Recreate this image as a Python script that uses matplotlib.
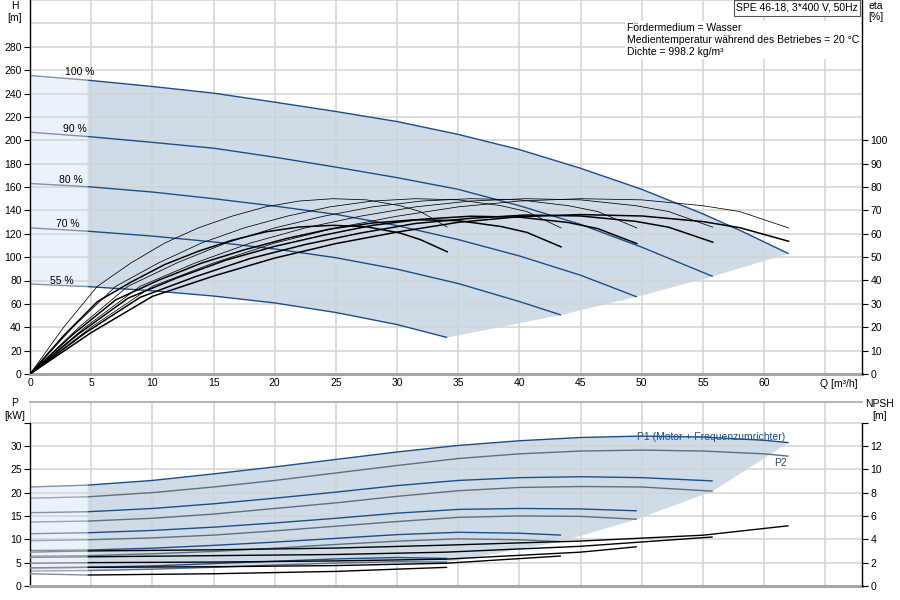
import matplotlib
matplotlib.use('Agg')
import matplotlib.pyplot as plt
import numpy as np

plt.rcParams['font.family'] = ['Liberation Sans', 'DejaVu Sans']
plt.rcParams['font.size'] = 7.5

# --- Förderhöhe H [m] je Drehzahl ---
speeds = ['100 %', '90 %', '80 %', '70 %', '55 %']
Q_H100 = [0, 4.7, 10, 15, 20, 25, 30, 35, 40, 45, 50, 55, 58, 62]
H100 = [255.4, 251.4, 246, 240.3, 232.6, 224.6, 216, 205, 192, 176, 158, 137, 123, 103]
Q_H90 = [0, 4.7, 10, 15, 20, 25, 30, 35, 40, 45, 50, 55.8]
H90 = [206.9, 203.2, 198.2, 193.2, 185.5, 177, 168, 158, 144, 128, 108.5, 83.5]
Q_H80 = [0, 4.7, 10, 15, 20, 25, 30, 35, 40, 45, 49.6]
H80 = [163, 160.3, 155.7, 150, 143.7, 136.6, 127, 115, 101, 84.5, 66]
Q_H70 = [0, 4.7, 10, 15, 20, 25, 30, 35, 40, 43.4]
H70 = [125, 122.2, 118, 113, 107, 99.5, 89.7, 77.4, 62, 50.5]
Q_H55 = [0, 4.7, 10, 15, 20, 25, 30, 34.1]
H55 = [77, 74.8, 71.2, 66.7, 60.8, 52.6, 42.3, 31.2]

# --- Wirkungsgrad eta [%]: dünn = Pumpe, dick = gesamt ---
Q_E100 = [0, 5, 10, 15, 20, 25, 30, 35, 40, 45, 50, 55, 58, 62]
ETA_P100 = [0, 20, 37.5, 47.5, 56, 62.5, 67.5, 71.5, 74, 75, 74.5, 72, 69.5, 62.5]
ETA_T100 = [0, 17.7, 33.2, 41.9, 49.6, 55.8, 60.7, 64.9, 67.3, 68.2, 67.6, 65.2, 62.6, 56.8]
Q_E90 = [0, 4.5, 9, 13.5, 18, 22.5, 27, 31.5, 36, 40.5, 45, 49.5, 52.2, 55.8]
ETA_P90 = [0, 20, 37.5, 47.5, 56, 62.5, 67.5, 71.5, 74, 75, 74.5, 72, 69.5, 62.8]
ETA_T90 = [0, 17.5, 32.8, 41.6, 49.4, 55.4, 60.3, 64.4, 66.6, 68.0, 67.6, 65.3, 62.8, 56.4]
Q_E80 = [0, 4, 8, 12, 16, 20, 24, 28, 32, 36, 40, 44, 46.4, 49.6]
ETA_P80 = [0, 20, 37.5, 47.5, 56, 62.5, 67.5, 71.5, 74, 75, 74.5, 72, 69.5, 62.5]
ETA_T80 = [0, 17.3, 32.4, 41.1, 48.7, 54.6, 59.4, 63.6, 66.2, 67.5, 67.1, 64.8, 62.2, 55.8]
Q_E70 = [0, 3.5, 7, 10.5, 14, 17.5, 21, 24.5, 28, 31.5, 35, 38.5, 40.6, 43.4]
ETA_P70 = [0, 20, 37.5, 47.5, 56, 62.5, 67.5, 71.5, 74, 75, 74.5, 72, 69.5, 62.5]
ETA_T70 = [0, 16.9, 31.7, 40.1, 47.4, 53.1, 58, 62, 64.6, 66, 65.6, 63.1, 60.6, 54.4]
Q_E55 = [0, 2.75, 5.5, 8.25, 11, 13.75, 16.5, 19.25, 22, 24.75, 27.5, 30.25, 31.9, 34.1]
ETA_P55 = [0, 20, 37.5, 47.5, 56, 62.5, 67.5, 71.5, 74, 75, 74.5, 72, 69.5, 62.9]
ETA_T55 = [0, 16.4, 30.9, 39.3, 46.8, 52.5, 57.2, 60.8, 62.9, 63.6, 63.0, 60.3, 57.5, 52.3]

# --- Leistung P [kW] ---
Q_P100 = [0, 4.7, 10, 15, 20, 25, 30, 35, 40, 45, 50, 55, 60, 62]
P1_100 = [21.2, 21.6, 22.6, 24.0, 25.5, 27.1, 28.7, 30.1, 31.1, 31.8, 32.1, 31.9, 31.2, 30.7]
P2_100 = [18.8, 19.1, 20.0, 21.2, 22.6, 24.2, 25.8, 27.3, 28.3, 28.9, 29.1, 28.9, 28.3, 27.8]
Q_P90 = [0, 4.7, 10, 15, 20, 25, 30, 35, 40, 45, 50, 55.8]
P1_90 = [15.7, 15.9, 16.6, 17.6, 18.8, 20.1, 21.5, 22.6, 23.2, 23.4, 23.2, 22.5]
P2_90 = [13.7, 13.9, 14.5, 15.4, 16.6, 17.8, 19.2, 20.4, 21.1, 21.3, 21.2, 20.3]
Q_P80 = [0, 4.7, 10, 15, 20, 25, 30, 35, 40, 45, 49.6]
P1_80 = [11.2, 11.4, 11.9, 12.6, 13.5, 14.5, 15.6, 16.4, 16.6, 16.5, 16.1]
P2_80 = [9.7, 9.9, 10.3, 10.9, 11.8, 12.8, 13.8, 14.7, 15.0, 14.9, 14.3]
Q_P70 = [0, 4.7, 10, 15, 20, 25, 30, 35, 40, 43.4]
P1_70 = [7.6, 7.7, 8.1, 8.7, 9.4, 10.2, 11.0, 11.5, 11.3, 10.9]
P2_70 = [6.4, 6.5, 6.9, 7.4, 8.1, 8.9, 9.6, 10.1, 9.9, 9.5]
Q_P55 = [0, 4.7, 10, 15, 20, 25, 30, 34.1]
P1_55 = [3.9, 4.0, 4.3, 4.8, 5.3, 5.8, 6.1, 5.9]
P2_55 = [3.2, 3.3, 3.6, 4.0, 4.5, 4.9, 5.2, 5.1]

# --- NPSH [m] ---
Q_N100 = [0, 4.7, 15, 25, 34, 45, 55, 62]
N100 = [2.9, 3.0, 3.1, 3.25, 3.5, 3.85, 4.35, 5.16]
Q_N90 = [0, 4.7, 15, 25, 34, 45, 55.8]
N90 = [2.45, 2.5, 2.6, 2.7, 2.9, 3.4, 4.2]
Q_N80 = [0, 4.7, 15, 25, 34, 45, 49.6]
N80 = [1.95, 2.0, 2.05, 2.15, 2.3, 2.9, 3.36]
Q_N70 = [0, 4.7, 15, 25, 34, 43.4]
N70 = [1.55, 1.6, 1.65, 1.75, 1.95, 2.57]
Q_N55 = [0, 4.7, 15, 25, 34.1]
N55 = [1.05, 0.94, 1.05, 1.25, 1.6]

Q_MIN = 4.7

BLUE = '#1b4f8a'
BLUE_LIGHT = '#7f93aa'
P2_COL = '#5c6f84'
GRID = '#d3d3d3'
SHADE = '#cfdce8'
SHADE_LIGHT = '#eaf3fb'


def split(q, y):
    q = np.asarray(q, float)
    y = np.asarray(y, float)
    lo = q <= Q_MIN
    hi = q >= Q_MIN
    return (q[lo], y[lo]), (q[hi], y[hi])


def two_tone(axis, q, y, col, col_light, lw):
    (ql, yl), (qh, yh) = split(q, y)
    axis.plot(ql, yl, color=col_light, lw=lw, zorder=2, solid_capstyle='butt')
    axis.plot(qh, yh, color=col, lw=lw, zorder=2.1, solid_capstyle='butt')


def shade(axis, top, bottom, ends):
    (qt_l, yt_l), (qt_h, yt_h) = split(*top)
    (qb_l, yb_l), (qb_h, yb_h) = split(*bottom)
    xs = np.concatenate([qt_l, qb_l[::-1]])
    ys = np.concatenate([yt_l, yb_l[::-1]])
    axis.fill(xs, ys, color=SHADE_LIGHT, lw=0, zorder=1)
    ex = [e[0] for e in ends]
    ey = [e[1] for e in ends]
    xs = np.concatenate([qt_h, ex, qb_h[::-1]])
    ys = np.concatenate([yt_h, ey, yb_h[::-1]])
    axis.fill(xs, ys, color=SHADE, lw=0, zorder=1)


def grid(axis, ymax, ystep):
    for v in np.arange(0, 66, 5):
        axis.axvline(v, color=GRID, lw=1.1, zorder=1.5)
    for v in np.arange(ystep, ymax + 0.1, ystep):
        axis.axhline(v, color=GRID, lw=1.1, zorder=1.5)


fig = plt.figure(figsize=(9, 6), dpi=100)

# ================= oberes Diagramm =================
ax = fig.add_axes([30 / 900, 1 - 374 / 600, 832 / 900, 374 / 600])
ax.set_xlim(0, 68)
ax.set_ylim(0, 320)
grid(ax, 320, 20)

H_curves = [(Q_H100, H100), (Q_H90, H90), (Q_H80, H80), (Q_H70, H70), (Q_H55, H55)]
ends_H = [(q[-1], h[-1]) for q, h in H_curves[1:-1]]
shade(ax, H_curves[0], H_curves[-1], ends_H)
for q, h in H_curves:
    two_tone(ax, q, h, BLUE, BLUE_LIGHT, 1.0)

label_pos = [(4.1, 258), (3.7, 209.5), (3.35, 166), (3.1, 128.5), (2.6, 80)]
for txt, (qx, hy) in zip(speeds, label_pos):
    ax.text(qx, hy, txt, ha='center', va='center', fontsize=7.5, zorder=5)

ax.set_xticks(range(0, 61, 5))
ax.set_yticks(range(0, 281, 20))
ax.tick_params(axis='x', length=0, pad=3, labelsize=7.5)
ax.tick_params(axis='y', length=4, width=0.8, pad=2, labelsize=7.5)
ax.annotate('Q [m³/h]', xy=(66.1, 0), xycoords=('data', 'axes fraction'),
            xytext=(0, -3.5), textcoords='offset points', ha='center', va='top', fontsize=7.5)
ax.spines['top'].set_visible(False)
ax.spines['right'].set_visible(False)
ax.spines['bottom'].set_color('#a6a6a6')
ax.spines['bottom'].set_linewidth(2.2)
ax.spines['left'].set_linewidth(1.0)

ax2 = ax.twinx()
ax2.set_ylim(0, 160)
ax2.set_yticks(range(0, 101, 10))
ax2.tick_params(axis='y', length=4, width=0.8, pad=2, labelsize=7.5)
for s in ['top', 'left', 'bottom']:
    ax2.spines[s].set_visible(False)
ax2.spines['right'].set_linewidth(1.0)

eta_pump = [(Q_E100, ETA_P100), (Q_E90, ETA_P90), (Q_E80, ETA_P80), (Q_E70, ETA_P70), (Q_E55, ETA_P55)]
eta_tot = [(Q_E100, ETA_T100), (Q_E90, ETA_T90), (Q_E80, ETA_T80), (Q_E70, ETA_T70), (Q_E55, ETA_T55)]
for q, e in eta_pump:
    ax2.plot(q, e, color='black', lw=0.55)
for q, e in eta_tot:
    ax2.plot(q, e, color='black', lw=1.1)

fig.text(15 / 900, 1 - 6 / 600, 'H', ha='center', va='center', fontsize=7.5)
fig.text(15 / 900, 1 - 18 / 600, '[m]', ha='center', va='center', fontsize=7.5)
fig.text(876 / 900, 1 - 6 / 600, 'eta', ha='center', va='center', fontsize=7.5)
fig.text(876 / 900, 1 - 17 / 600, '[%]', ha='center', va='center', fontsize=7.5)
fig.text(797 / 900, 1 - 8 / 600, 'SPE 46-18, 3*400 V, 50Hz', ha='center', va='center', fontsize=7.5,
         bbox=dict(boxstyle='square,pad=0.25', fc='white', ec='#555555', lw=0.8))
fig.text(627 / 900, 1 - 40 / 600,
         'Fördermedium = Wasser\nMedientemperatur während des Betriebes = 20 °C\nDichte = 998.2 kg/m³',
         ha='left', va='center', fontsize=7.5, linespacing=1.25,
         bbox=dict(boxstyle='square,pad=0.2', fc='white', ec='none'))

# ================= unteres Diagramm =================
axb = fig.add_axes([30 / 900, 14 / 600, 832 / 900, 184 / 600])
axb.set_xlim(0, 68)
axb.set_ylim(0, 39.4)
grid(axb, 35, 5)

P1_curves = [(Q_P100, P1_100), (Q_P90, P1_90), (Q_P80, P1_80), (Q_P70, P1_70), (Q_P55, P1_55)]
P2_curves = [(Q_P100, P2_100), (Q_P90, P2_90), (Q_P80, P2_80), (Q_P70, P2_70), (Q_P55, P2_55)]
ends_P = [(P1_curves[0][0][-1], P1_curves[0][1][-1])] + [(q[-1], p[-1]) for q, p in P2_curves[1:-1]]
shade(axb, P1_curves[0], P2_curves[-1], ends_P)
for q, p in P2_curves:
    two_tone(axb, q, p, P2_COL, '#9aa6b3', 1.0)
for q, p in P1_curves:
    two_tone(axb, q, p, BLUE, BLUE_LIGHT, 1.0)

axb.text(61.7, 31.9, 'P1 (Motor + Frequenzumrichter)', color=BLUE, ha='right', va='center',
         fontsize=7.5, zorder=5)
axb.text(61.3, 26.4, 'P2', color=BLUE, ha='center', va='center', fontsize=7.5, zorder=5)

axb.set_xticks(range(0, 66, 5))
axb.set_xticklabels([])
axb.tick_params(axis='x', length=0)
axb.set_yticks(range(0, 36, 5))
axb.set_yticklabels(['0', '5', '10', '15', '20', '25', '30', ''])
axb.tick_params(axis='y', length=4, width=0.8, pad=2, labelsize=7.5)
axb.spines['right'].set_visible(False)
axb.spines['top'].set_color('#a6a6a6')
axb.spines['top'].set_linewidth(1.2)
axb.spines['bottom'].set_color('#a6a6a6')
axb.spines['bottom'].set_linewidth(2.2)
axb.spines['left'].set_bounds(0, 35)
axb.spines['left'].set_linewidth(1.0)

axb2 = axb.twinx()
axb2.set_ylim(0, 39.4 * 0.4)
axb2.set_yticks(range(0, 15, 2))
axb2.set_yticklabels(['0', '2', '4', '6', '8', '10', '12', ''])
axb2.tick_params(axis='y', length=4, width=0.8, pad=2, labelsize=7.5)
for s in ['top', 'left', 'bottom']:
    axb2.spines[s].set_visible(False)
axb2.spines['right'].set_bounds(0, 14)
axb2.spines['right'].set_linewidth(1.0)

N_curves = [(Q_N100, N100), (Q_N90, N90), (Q_N80, N80), (Q_N70, N70), (Q_N55, N55)]
for q, n in N_curves:
    two_tone(axb2, q, n, 'black', '#8c8c8c', 1.0)

fig.text(15 / 900, 1 - 403 / 600, 'P', ha='center', va='center', fontsize=7.5)
fig.text(15 / 900, 1 - 416 / 600, '[kW]', ha='center', va='center', fontsize=7.5)
fig.text(880 / 900, 1 - 404 / 600, 'NPSH', ha='center', va='center', fontsize=7.5)
fig.text(880 / 900, 1 - 416 / 600, '[m]', ha='center', va='center', fontsize=7.5)

fig.savefig('out.png', dpi=100)
